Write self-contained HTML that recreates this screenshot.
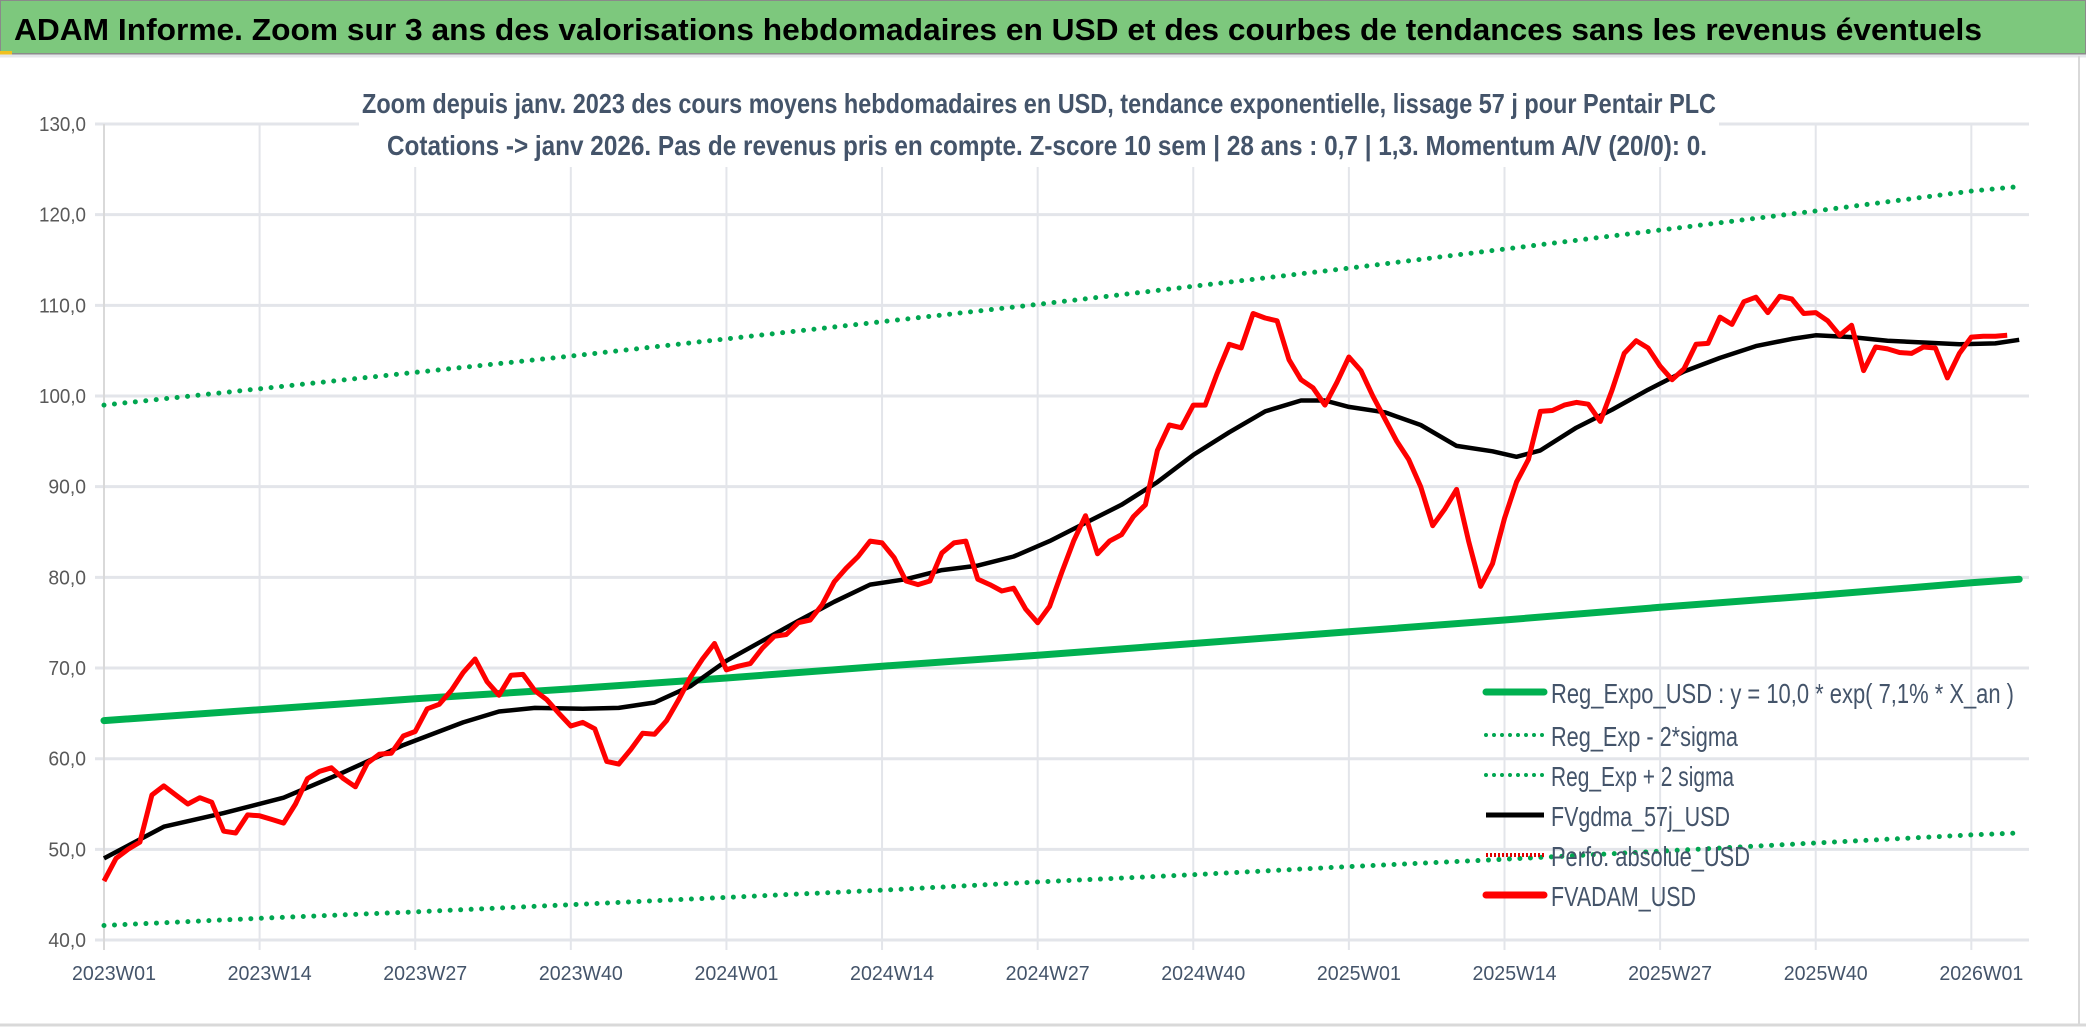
<!DOCTYPE html>
<html><head><meta charset="utf-8"><style>
html,body{margin:0;padding:0;background:#fff}
svg{display:block}
text{font-family:"Liberation Sans Narrow","Liberation Sans",sans-serif}
</style></head><body>
<svg id="chart" width="2086" height="1031" viewBox="0 0 2086 1031" xmlns="http://www.w3.org/2000/svg">
<rect x="0" y="0" width="2086" height="1031" fill="#fff"/>
<rect x="0" y="0" width="2086" height="54" fill="#7dc87d" stroke="#8a8a8a" stroke-width="2"/>
<rect x="0" y="51" width="12" height="4" fill="#f0c020"/>
<line x1="0" y1="56" x2="2086" y2="56" stroke="#e4e6ea" stroke-width="3"/>
<text x="14" y="40" font-size="31" font-weight="bold" fill="#000" textLength="1968" lengthAdjust="spacingAndGlyphs">ADAM Informe. Zoom sur 3 ans des valorisations hebdomadaires en USD et des courbes de tendances sans les revenus éventuels</text>
<g id="grid"></g>
<rect x="359" y="80" width="1360" height="87" fill="#fff"/>
<text x="362" y="113" font-size="28" font-weight="bold" fill="#44546a" textLength="1354" lengthAdjust="spacingAndGlyphs">Zoom depuis janv. 2023 des cours moyens hebdomadaires en USD, tendance exponentielle, lissage 57 j pour Pentair PLC</text>
<text x="387" y="155" font-size="28" font-weight="bold" fill="#44546a" textLength="1320" lengthAdjust="spacingAndGlyphs">Cotations -&gt; janv 2026. Pas de revenus pris en compte. Z-score 10 sem | 28 ans : 0,7 | 1,3. Momentum A/V (20/0): 0.</text>
<g id="axes"></g><g id="series"></g><g id="legend"></g>
<line x1="2079" y1="56" x2="2079" y2="1025" stroke="#d9d9d9" stroke-width="2"/>
<line x1="0" y1="1025" x2="2086" y2="1025" stroke="#d9d9d9" stroke-width="3"/>
</svg>
<script>
const tickLabels = ["2023W01","2023W14","2023W27","2023W40","2024W01","2024W14","2024W27","2024W40","2025W01","2025W14","2025W27","2025W40","2026W01"];
const yTicks = [40,50,60,70,80,90,100,110,120,130];
const regWeeks = [0,13,26,39,52,65,78,91,104,117,130,143,156,160];
const regExpo = [64.2,65.4,66.6,67.7,68.9,70.2,71.4,72.7,74.0,75.3,76.7,78.0,79.4,79.8];
const regUpper = [99.0,100.8,102.6,104.4,106.3,108.2,110.1,112.1,114.1,116.2,118.3,120.4,122.6,123.1];
const regLower = [41.6,42.4,43.1,43.9,44.7,45.5,46.4,47.2,48.1,48.9,49.8,50.7,51.6,51.8];
const fvadam = [46.5,49,50,50.8,56,57,56,55,55.7,55.2,52,51.8,53.8,53.7,53.3,52.9,55,57.8,58.6,59,57.8,56.9,59.5,60.5,60.6,62.5,63,65.5,66,67.5,69.5,71,68.5,67,69.2,69.3,67.5,66.5,65,63.6,64,63.3,59.7,59.4,61,62.8,62.7,64.2,66.5,69,71,72.7,69.8,70.2,70.5,72.2,73.5,73.7,75,75.3,77,79.5,81,82.3,84,83.8,82.2,79.6,79.2,79.6,82.7,83.8,84,79.8,79.2,78.5,78.8,76.5,75,76.8,80.5,84,86.8,82.6,84,84.7,86.7,88,94,96.8,96.5,99,99,102.5,105.7,105.3,109.1,108.6,108.3,104,101.8,100.9,99,101.5,104.3,102.8,100,97.5,95,93,90,85.7,87.5,89.7,84,79,81.5,86.5,90.5,93,98.3,98.4,99,99.3,99.1,97.2,100.7,104.7,106.1,105.3,103.3,101.8,103,105.7,105.8,108.7,107.9,110.4,110.9,109.2,111,110.7,109.1,109.2,108.3,106.7,107.8,102.8,105.4,105.2,104.8,104.7,105.4,105.3,102,104.7,106.5,106.6,106.6,106.7];
const gdmaWeeks = [0,5,10,15,20,25,30,33,36,40,43,46,49,52,55,58,61,64,67,70,73,76,79,82,85,88,91,94,97,100,102,104,107,110,113,116,118,120,123,126,129,132,135,138,141,143,146,149,152,155,158,160];
const gdma = [49,52.5,54,55.7,58.5,61.5,64,65.2,65.6,65.5,65.6,66.2,68,70.8,73,75.2,77.3,79.2,79.8,80.8,81.3,82.3,84,86,88,90.5,93.5,96,98.3,99.5,99.5,98.8,98.2,96.8,94.5,93.9,93.3,94,96.5,98.5,100.7,102.7,104.2,105.5,106.3,106.7,106.5,106.1,105.9,105.7,105.8,106.2];

const NS="http://www.w3.org/2000/svg";
const X0=104, PXW=11.97, XR=2029;
const xs = w => X0 + w*PXW;
const ys = v => 124 + (130 - v)*9.067;
function mk(tag, attrs, parent){const e=document.createElementNS(NS,tag);for(const k in attrs)e.setAttribute(k,attrs[k]);parent.appendChild(e);return e;}
const grid=document.getElementById('grid'), axes=document.getElementById('axes'), ser=document.getElementById('series'), leg=document.getElementById('legend');

yTicks.forEach(v=>{
  const l=mk('line',{x1:95,x2:XR,y1:ys(v),y2:ys(v),stroke:'#e3e5ea','stroke-width':3},grid);
  
  
  const s=v.toFixed(1).replace('.',',');
  const t=mk('text',{x:86,y:ys(v)+7,'font-size':20,'text-anchor':'end',fill:'#595959',textLength:s.length*9.4,lengthAdjust:'spacingAndGlyphs'},axes);
  t.textContent=s;
  
  
});
tickLabels.forEach((lab,i)=>{
  const x=xs(i*13);
  if(i>0){const l=mk('line',{x1:x,x2:x,y1:124,y2:950,stroke:'#e3e5ea','stroke-width':2},grid);
  
  }
  const t=mk('text',{x:x-32,y:980,'font-size':20,fill:'#44546a',textLength:84,lengthAdjust:'spacingAndGlyphs'},axes);
  t.textContent=lab;
  
  
});
const ax=mk('line',{x1:X0,x2:X0,y1:124,y2:950,stroke:'#d9d9d9','stroke-width':2},axes);



function pts(weeks, vals){return vals.map((v,i)=>xs(weeks?weeks[i]:i).toFixed(1)+','+ys(v).toFixed(1)).join(' ');}
const dotted={fill:'none',stroke:'#00a650','stroke-width':5,'stroke-linecap':'round','stroke-dasharray':'0 10.5'};
const up=mk('polyline',Object.assign({points:pts(regWeeks,regUpper)},dotted),ser);


const lo=mk('polyline',Object.assign({points:pts(regWeeks,regLower)},dotted),ser);


const rg=mk('polyline',{points:pts(regWeeks,regExpo),fill:'none',stroke:'#00b050','stroke-width':7,'stroke-linecap':'round'},ser);


const bk=mk('polyline',{points:pts(gdmaWeeks,gdma),fill:'none',stroke:'#000','stroke-width':4.5,'stroke-linejoin':'round'},ser);


const rd=mk('polyline',{points:pts(null,fvadam),fill:'none',stroke:'#ff0000','stroke-width':5,'stroke-linejoin':'round'},ser);



const legendItems=[
 ["Reg_Expo_USD : y = 10,0 * exp( 7,1% *  X_an )",'solidgreen',693,463],
 ["Reg_Exp - 2*sigma",'dotgreen',736,187],
 ["Reg_Exp + 2 sigma",'dotgreen',776,183],
 ["FVgdma_57j_USD",'black',816,179],
 ["Perfo. absolue_USD",'dotred',856,199],
 ["FVADAM_USD",'red',896,145]];
legendItems.forEach(it=>{
  const g=mk('g',{},leg);
  
  
  let st;
  if(it[1]==='solidgreen') st={stroke:'#00b050','stroke-width':7,'stroke-linecap':'round'};
  else if(it[1]==='dotgreen') st={stroke:'#00a650','stroke-width':4,'stroke-linecap':'round','stroke-dasharray':'0 8'};
  else if(it[1]==='dotred') st={stroke:'#e00000','stroke-width':4,'stroke-dasharray':'2 2'};
  else if(it[1]==='black') st={stroke:'#000','stroke-width':5};
  else st={stroke:'#ff0000','stroke-width':7,'stroke-linecap':'round'};
  mk('line',Object.assign({x1:1486,x2:1544,y1:it[2]-1,y2:it[2]-1},st),g);
  const t=mk('text',{x:1551,y:it[2]+10,'font-size':28,fill:'#44546a',textLength:it[3],lengthAdjust:'spacingAndGlyphs'},g);
  t.textContent=it[0];
});
</script>
</body></html>
